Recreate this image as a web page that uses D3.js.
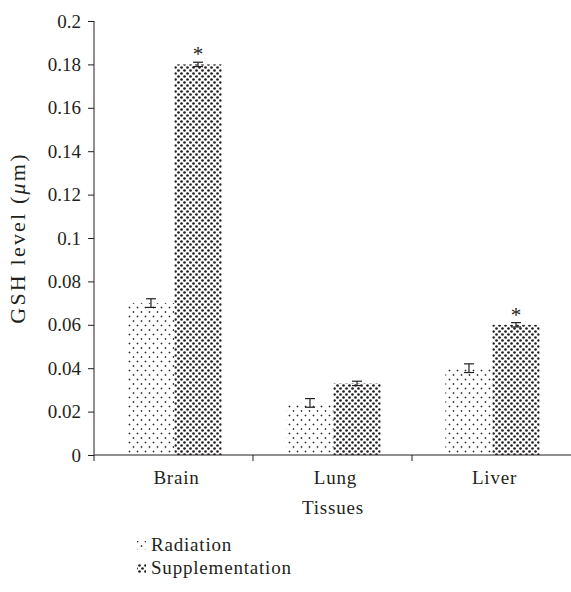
<!DOCTYPE html>
<html><head><meta charset="utf-8">
<script src="https://cdn.jsdelivr.net/npm/d3@7"></script>
<style>body{margin:0;background:#fff}svg{display:block}text{font-family:"Liberation Serif","Times New Roman",serif;fill:#231f20}</style>
</head><body><svg id="c" width="571" height="592"></svg>
<script>
const categories = ["Brain", "Lung", "Liver"];
const seriesNames = ["Radiation", "Supplementation"];
const radiation = [0.070, 0.024, 0.040];
const supplementation = [0.180, 0.033, 0.060];
const radiationErr = [0.002, 0.002, 0.002];
const supplementationErr = [0.001, 0.001, 0.001];
const significant = [[false, false, false], [true, false, true]];
const yTicks = [0, 0.02, 0.04, 0.06, 0.08, 0.1, 0.12, 0.14, 0.16, 0.18, 0.2];

const FS = 19;
const LS = "0.8px";
const svg = d3.select("#c");
const x = d3.scaleBand().domain(categories).range([94, 571]).paddingInner(0).paddingOuter(0);
const xs = d3.scaleBand().domain(seriesNames).range([1, x.bandwidth() + 1]).paddingInner(0).paddingOuter(0.69);
const y = d3.scaleLinear().domain([0, 0.2]).range([455, 21]);

const defs = svg.append("defs");
const p1 = defs.append("pattern").attr("id", "pRad").attr("patternUnits", "userSpaceOnUse").attr("width", 8).attr("height", 9);
[[1.5, 1.5], [5.5, 6]].forEach(([cx, cy]) => {
  p1.append("rect").attr("x", cx - 0.9).attr("y", cy - 0.4).attr("width", 1.8).attr("height", 0.8).attr("fill", "#231f20");
  p1.append("rect").attr("x", cx - 0.4).attr("y", cy - 0.9).attr("width", 0.8).attr("height", 1.8).attr("fill", "#231f20");
});
const p2 = defs.append("pattern").attr("id", "pSup").attr("patternUnits", "userSpaceOnUse").attr("width", 6).attr("height", 6);
[[1.5, 1.5], [4.5, 4.5]].forEach(([cx, cy]) => p2.append("circle").attr("cx", cx).attr("cy", cy).attr("r", 1.35).attr("fill", "#231f20"));
const fills = ["url(#pRad)", "url(#pSup)"];
const vals = [radiation, supplementation];
const errs = [radiationErr, supplementationErr];

// bars
seriesNames.forEach((s, si) => {
  const g = svg.append("g");
  categories.forEach((c, ci) => {
    const bx = x(c) + xs(s);
    g.append("rect").attr("x", bx).attr("width", xs.bandwidth())
      .attr("y", y(vals[si][ci])).attr("height", y(0) - y(vals[si][ci]))
      .attr("fill", fills[si]);
    const cx = bx + xs.bandwidth() / 2;
    const e = errs[si][ci], v = vals[si][ci];
    g.append("line").attr("x1", cx).attr("x2", cx).attr("y1", y(v + e)).attr("y2", y(v - e)).attr("stroke", "#231f20").attr("stroke-width", 1.2);
    [v + e, v - e].forEach(t => g.append("line").attr("x1", cx - 5).attr("x2", cx + 5).attr("y1", y(t)).attr("y2", y(t)).attr("stroke", "#231f20").attr("stroke-width", 1.2));
    if (significant[si][ci]) {
      g.append("text").attr("x", cx).attr("y", y(v + e) - 1).attr("text-anchor", "middle").attr("font-size", 21).text("*");
    }
  });
});

// y axis
const ya = svg.append("g").attr("transform", "translate(94,0)")
  .call(d3.axisLeft(y).tickValues(yTicks).tickSize(6).tickPadding(7).tickFormat(d => d3.format("")(+d.toFixed(2))));
ya.select(".domain").attr("stroke", "#231f20").attr("d", "M0,21V455");
ya.selectAll(".tick line").attr("stroke", "#231f20");
ya.selectAll("text").attr("font-size", FS).attr("font-family", "Liberation Serif").attr("fill", "#231f20");

// x axis
const xa = svg.append("g").attr("transform", "translate(0,455)");
xa.append("line").attr("x1", 94).attr("x2", 571).attr("y1", 0).attr("y2", 0).attr("stroke", "#231f20");
const xTickPos = categories.map(c => x(c));
xa.selectAll(".xt").data(xTickPos).enter().append("line").attr("x1", d => d).attr("x2", d => d).attr("y1", 0).attr("y2", 6).attr("stroke", "#231f20");
xa.selectAll(".xl").data(categories).enter().append("text")
  .attr("x", d => x(d) + x.bandwidth() / 2 + 3).attr("y", 29).attr("text-anchor", "middle").attr("font-size", FS).attr("letter-spacing", LS).text(d => d);

svg.append("text").attr("x", 333).attr("y", 514).attr("text-anchor", "middle").attr("font-size", FS).attr("letter-spacing", LS).text("Tissues");

const yl = svg.append("text").attr("transform", "translate(25,238) rotate(-90)").attr("text-anchor", "middle").attr("font-size", 22).attr("letter-spacing", "2.2px");
yl.append("tspan").text("GSH level (");
yl.append("tspan").attr("font-style", "italic").text("μ");
yl.append("tspan").text("m)");

// legend
seriesNames.forEach((s, i) => {
  const ly = 545 + i * 23;
  svg.append("rect").attr("x", 137).attr("y", ly - 4).attr("width", 9).attr("height", 9).attr("fill", fills[i]);
  svg.append("text").attr("x", 151).attr("y", ly + 6).attr("font-size", FS).attr("letter-spacing", LS).text(s);
});
</script></body></html>
